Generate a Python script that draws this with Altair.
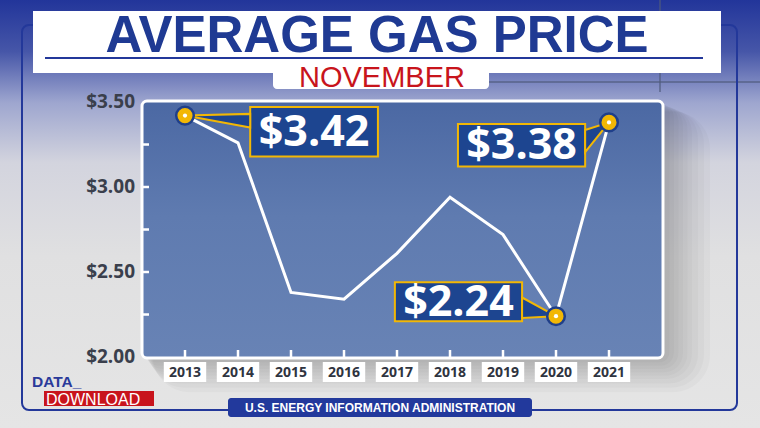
import altair as alt
import pandas as pd

# ---------------- data ----------------
years = [2013, 2014, 2015, 2016, 2017, 2018, 2019, 2020, 2021]
prices = [3.42, 3.26, 2.38, 2.34, 2.61, 2.94, 2.72, 2.24, 3.38]
y_label_values = [2.00, 2.50, 3.00, 3.50]
y_tick_values = [2.25, 2.50, 2.75, 3.00, 3.25]
callout_years = [2013, 2020, 2021]
title_text = "AVERAGE GAS PRICE"
subtitle_text = "NOVEMBER"
source_text = "U.S. ENERGY INFORMATION ADMINISTRATION"

# callout layout in data units (year / price)
callout_box_x1 = [2014.23, 2016.96, 2018.15]
callout_box_x2 = [2016.64, 2019.36, 2020.55]
callout_box_y1 = [3.47, 2.44, 3.37]
callout_box_y2 = [3.18, 2.21, 3.12]
pointer_x = [2014.23, 2019.36, 2020.55]
pointer_top = [3.43, 2.35, 3.335]
pointer_bot = [3.35, 2.23, 3.205]

# ---------------- frames ----------------
df = pd.DataFrame({"year": years, "price": prices})
one = pd.DataFrame({"k": [0]})
cdf = pd.DataFrame({
    "year": callout_years,
    "price": [prices[years.index(y)] for y in callout_years],
    "bx1": callout_box_x1, "bx2": callout_box_x2,
    "by1": callout_box_y1, "by2": callout_box_y2,
})
wrows = []
for i, y in enumerate(callout_years):
    p = prices[years.index(y)]
    wrows.append({"id": i, "year": y, "top": p, "bot": p})
    wrows.append({"id": i, "year": pointer_x[i], "top": pointer_top[i], "bot": pointer_bot[i]})
wdf = pd.DataFrame(wrows)
ytick_df = pd.DataFrame({"price": y_tick_values})
ylab_df = pd.DataFrame({"price": y_label_values})

xs = alt.Scale(domain=[2013, 2021], range=[185, 609], zero=False, nice=False)
ys = alt.Scale(domain=[2.0, 3.5], range=[357, 102], zero=False, nice=False)

NAVY = "#23389a"
BOXBLUE = "#1d4590"
GOLD = "#f2b705"


def rect(x1, x2, y1, y2, **kw):
    return alt.Chart(one).mark_rect(**kw).encode(
        x=alt.value(x1), x2=alt.value(x2), y=alt.value(y1), y2=alt.value(y2))


def text(t, x, y, **kw):
    return alt.Chart(one).mark_text(text=t, **kw).encode(x=alt.value(x), y=alt.value(y))


def rule(x1, x2, y1, y2, **kw):
    return alt.Chart(one).mark_rule(**kw).encode(
        x=alt.value(x1), x2=alt.value(x2), y=alt.value(y1), y2=alt.value(y2))


bg = rect(0, 760, 0, 428, color={
    "gradient": "linear", "x1": 0, "x2": 0, "y1": 0, "y2": 1,
    "stops": [
        {"offset": 0.0, "color": "#22359a"},
        {"offset": 0.12, "color": "#4656a8"},
        {"offset": 0.24, "color": "#9ea6cf"},
        {"offset": 0.38, "color": "#d3d4de"},
        {"offset": 0.6, "color": "#e0e0e1"},
        {"offset": 1.0, "color": "#e5e5e5"},
    ]})

deco_v = rule(660, 660, 0, 92, color="#4f5b7c", strokeWidth=1.5, opacity=0.8)
deco_h = rule(489, 760, 82, 82, color="#4f5b7c", strokeWidth=1.5, opacity=0.8)
frame = rect(22, 737, 25, 410, fill=None, stroke=NAVY, strokeWidth=2, cornerRadius=7)

title_box = rect(33, 721, 11, 73, color="white")
tab = rect(273, 489, 60, 89, color="white", cornerRadius=4)
underline = rule(45, 703, 58, 58, color=NAVY, strokeWidth=2)
title = text(title_text, 377, 52, font="Liberation Sans", fontSize=51, fontWeight="bold",
             color="#1f3a93", align="center", baseline="alphabetic")
subtitle = text(subtitle_text, 382, 87, font="Liberation Sans", fontSize=29,
                color="#c8141c", align="center", baseline="alphabetic")

shadows = [rect(143 + g * 0.3, 662 + g * 1.5, 102 + g * 0.3, 357 + g * 1.1,
                color="black", opacity=0.022, cornerRadius=5 + g)
           for g in [2, 5, 8, 11, 14, 17, 20, 24, 28, 32]]

panel = rect(142, 663, 101, 358, stroke="white", strokeWidth=3, cornerRadius=5, fill={
    "gradient": "linear", "x1": 0, "x2": 0, "y1": 0, "y2": 1,
    "stops": [
        {"offset": 0.0, "color": "#4b68a3"},
        {"offset": 0.45, "color": "#5f7bb0"},
        {"offset": 1.0, "color": "#6883b5"},
    ]})

yticks = alt.Chart(ytick_df).mark_rule(color="white", strokeWidth=2.5).encode(
    y=alt.Y("price:Q", scale=ys, axis=None), x=alt.value(142), x2=alt.value(149))
xticks = alt.Chart(df).mark_rule(color="white", strokeWidth=2.5).encode(
    x=alt.X("year:Q", scale=xs, axis=None), y=alt.value(350), y2=alt.value(358))

ylabels = alt.Chart(ylab_df).transform_calculate(
    lab="'$' + format(datum.price, '.2f')"
).mark_text(font="Open Sans", fontSize=19, fontWeight="bold", color="#3a3f4c",
            align="right", baseline="middle").encode(
    y=alt.Y("price:Q", scale=ys, axis=None), x=alt.value(135), text="lab:N")

label_boxes = alt.Chart(df).transform_calculate(
    xa="datum.year - 0.4", xb="datum.year + 0.4"
).mark_rect(color="white").encode(
    x=alt.X("xa:Q", scale=xs, axis=None), x2="xb:Q",
    y=alt.value(362), y2=alt.value(382))
xlabels = alt.Chart(df).transform_calculate(
    lab="format(datum.year, 'd')"
).mark_text(font="Open Sans", fontSize=14, fontWeight="bold", color="#2f3440",
            align="center", baseline="middle").encode(
    x=alt.X("year:Q", scale=xs, axis=None), y=alt.value(372.5), text="lab:N")

line = alt.Chart(df).mark_line(color="white", strokeWidth=3).encode(
    x=alt.X("year:Q", scale=xs, axis=None),
    y=alt.Y("price:Q", scale=ys, axis=None),
)

cboxes = alt.Chart(cdf).mark_rect(fill=BOXBLUE, stroke=GOLD, strokeWidth=2).encode(
    x=alt.X("bx1:Q", scale=xs, axis=None), x2="bx2:Q",
    y=alt.Y("by1:Q", scale=ys, axis=None), y2="by2:Q")
wedges = alt.Chart(wdf).mark_area(fill=BOXBLUE, stroke=GOLD, strokeWidth=2).encode(
    x=alt.X("year:Q", scale=xs, axis=None),
    y=alt.Y("top:Q", scale=ys, axis=None), y2="bot:Q",
    detail="id:N")
ctext = alt.Chart(cdf).transform_calculate(
    cx="(datum.bx1 + datum.bx2) / 2", cy="(datum.by1 + datum.by2) / 2",
    lab="'$' + format(datum.price, '.2f')"
).mark_text(font="Open Sans", fontSize=43, fontWeight="bold", color="white",
            align="center", baseline="middle", dy=1).encode(
    x=alt.X("cx:Q", scale=xs, axis=None), y=alt.Y("cy:Q", scale=ys, axis=None),
    text="lab:N")

pts = alt.Chart(cdf).mark_point(filled=True, fill=GOLD, stroke="#1f3f8a",
                                 strokeWidth=2.5, size=310, opacity=1, shape="circle").encode(
    x=alt.X("year:Q", scale=xs, axis=None), y=alt.Y("price:Q", scale=ys, axis=None))
dots = alt.Chart(cdf).mark_circle(color="white", size=18, opacity=1).encode(
    x=alt.X("year:Q", scale=xs, axis=None), y=alt.Y("price:Q", scale=ys, axis=None))

dl_box = rect(44, 154, 391, 406, color="#c8141c")
data_t = text("DATA_", 32, 387, font="Liberation Sans", fontSize=15.5, fontWeight="bold",
              color="#2a3a9a", align="left", baseline="alphabetic")
dl_t = text("DOWNLOAD", 46, 405, font="Liberation Sans", fontSize=16, color="white",
            align="left", baseline="alphabetic")
src_box = rect(228, 532, 398, 417, color="#22399c", cornerRadius=3)
src_t = text(source_text, 380, 408, font="Liberation Sans", fontSize=12, fontWeight="bold",
             color="white", align="center", baseline="middle")

chart = alt.layer(
    bg, deco_v, deco_h, frame, title_box, tab, underline, title, subtitle,
    *shadows, panel, yticks, xticks, ylabels, label_boxes, xlabels, line,
    cboxes, wedges, ctext, pts, dots,
    dl_box, data_t, dl_t, src_box, src_t,
).properties(
    width=760, height=428, padding=0,
    autosize=alt.AutoSizeParams(type="none"),
).configure_view(strokeWidth=0)

chart.save("out.html", embed_options={"renderer": "svg", "actions": False})
